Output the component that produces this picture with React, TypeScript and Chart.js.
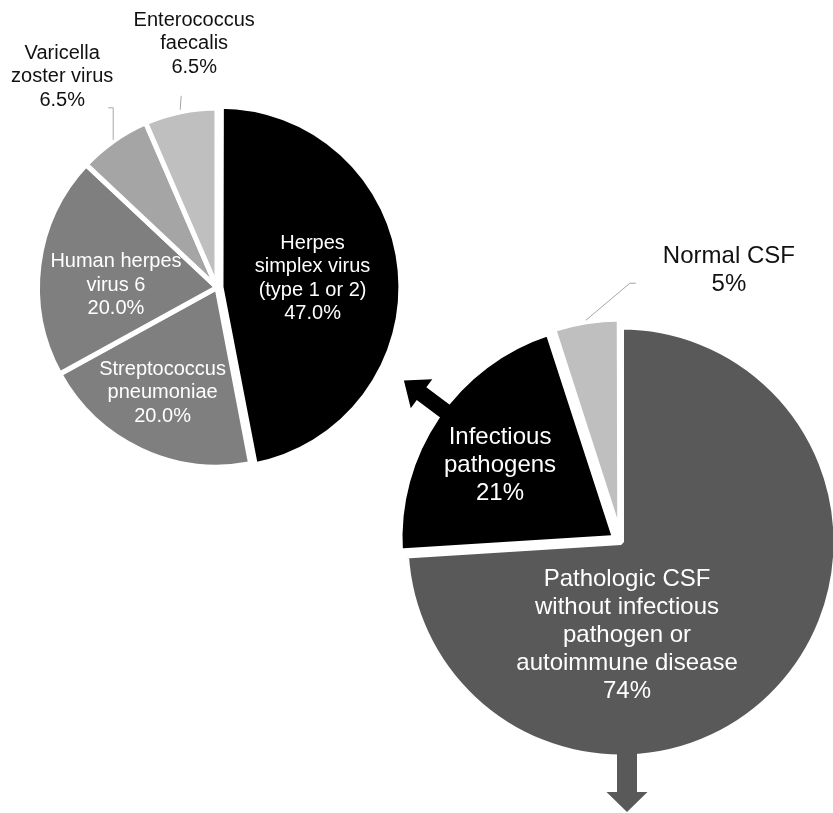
import React, { useEffect, useRef } from 'react';
import { Chart, registerables } from 'chart.js';

Chart.register(...registerables);

// ---------- data ----------
const pathogenCategories = [
  'Herpes simplex virus (type 1 or 2)',
  'Streptococcus pneumoniae',
  'Human herpes virus 6',
  'Varicella zoster virus',
  'Enterococcus faecalis',
];
const pathogenValues = [47.0, 20.0, 20.0, 6.5, 6.5];
const pathogenLabelLines = [
  ['Herpes', 'simplex virus', '(type 1 or 2)'],
  ['Streptococcus', 'pneumoniae'],
  ['Human herpes', 'virus 6'],
  ['Varicella', 'zoster virus'],
  ['Enterococcus', 'faecalis'],
];
const pathogenColors = ['#000000', '#7f7f7f', '#7f7f7f', '#a5a5a5', '#bfbfbf'];

const csfCategories = [
  'Pathologic CSF without infectious pathogen or autoimmune disease',
  'Infectious pathogens',
  'Normal CSF',
];
const csfValues = [74, 21, 5];
const csfLabelLines = [
  ['Pathologic CSF', 'without infectious', 'pathogen or', 'autoimmune disease'],
  ['Infectious', 'pathogens'],
  ['Normal CSF'],
];
const csfColors = ['#595959', '#000000', '#bfbfbf'];

// ---------- layout ----------
const W = 833;
const H = 813;
const FONT = "'Liberation Sans', Arial, Helvetica, sans-serif";
const LEFT_CENTER = { x: 217, y: 287.5 };
const RIGHT_CENTER = { x: 621, y: 542 };

const rad = (d: number) => (d * Math.PI) / 180;

function arcGeom(arc: any) {
  const mid = (arc.startAngle + arc.endAngle) / 2;
  const off = (arc.options.offset || 0) / 4;
  const circ = arc.endAngle - arc.startAngle;
  const fix = 1 - Math.sin(Math.min(Math.PI, circ));
  return {
    mid,
    cx: arc.x + Math.cos(mid) * off,
    cy: arc.y + Math.sin(mid) * off,
    r: arc.outerRadius,
    rEff: arc.outerRadius + off * fix,
  };
}

const sliceLabelPlugin = {
  id: 'sliceLabels',
  afterDatasetsDraw(chart: any, _args: any, opts: any) {
    const meta = chart.getDatasetMeta(0);
    const ctx = chart.ctx;
    const values = chart.data.datasets[0].data;
    meta.data.forEach((arc: any, i: number) => {
      const spec = opts.specs[i];
      if (!spec) return;
      const g = arcGeom(arc);
      const lines = [...opts.lines[i], opts.format(values[i])];
      ctx.save();
      ctx.font = `${opts.fontSize}px ${FONT}`;
      ctx.textAlign = 'center';
      ctx.textBaseline = 'middle';
      let lx: number;
      let ly: number;
      if (spec.inside) {
        const a = g.mid + rad(spec.da);
        lx = g.cx + Math.cos(a) * g.r * spec.k;
        ly = g.cy + Math.sin(a) * g.r * spec.k;
        ctx.fillStyle = opts.insideColor;
      } else {
        let px = g.cx + Math.cos(g.mid) * (g.rEff + spec.gap);
        let py = g.cy + Math.sin(g.mid) * (g.rEff + spec.gap);
        ctx.beginPath();
        ctx.moveTo(px, py);
        spec.leader.forEach(([dx, dy]: [number, number]) => {
          px += dx;
          py += dy;
          ctx.lineTo(px, py);
        });
        ctx.strokeStyle = opts.leaderColor;
        ctx.lineWidth = 1;
        ctx.stroke();
        lx = px + spec.dx;
        ly = py + spec.dy;
        ctx.fillStyle = opts.outsideColor;
      }
      const lh = spec.lh || opts.lineHeight;
      const top = ly - ((lines.length - 1) * lh) / 2;
      lines.forEach((t: string, j: number) => ctx.fillText(t, lx, top + j * lh));
      ctx.restore();
    });
  },
};

const arrowPlugin = {
  id: 'sliceArrows',
  afterDatasetsDraw(chart: any, _args: any, opts: any) {
    if (!opts || !opts.items) return;
    const meta = chart.getDatasetMeta(0);
    const ctx = chart.ctx;
    opts.items.forEach((it: any) => {
      const arc = meta.data[it.index];
      const g = arcGeom(arc);
      const a = rad(it.angle - 90);
      const d = { x: Math.cos(a), y: Math.sin(a) };
      const p = { x: -d.y, y: d.x };
      const bx = g.cx + d.x * g.r * it.from + p.x * it.lateral;
      const by = g.cy + d.y * g.r * it.from + p.y * it.lateral;
      const tx = g.cx + d.x * g.r * it.to + p.x * it.lateral;
      const ty = g.cy + d.y * g.r * it.to + p.y * it.lateral;
      const hx = tx - d.x * it.headLen;
      const hy = ty - d.y * it.headLen;
      ctx.save();
      ctx.beginPath();
      ctx.moveTo(bx + p.x * it.shaft, by + p.y * it.shaft);
      ctx.lineTo(hx + p.x * it.shaft, hy + p.y * it.shaft);
      ctx.lineTo(hx + p.x * it.head, hy + p.y * it.head);
      ctx.lineTo(tx, ty);
      ctx.lineTo(hx - p.x * it.head, hy - p.y * it.head);
      ctx.lineTo(hx - p.x * it.shaft, hy - p.y * it.shaft);
      ctx.lineTo(bx - p.x * it.shaft, by - p.y * it.shaft);
      ctx.closePath();
      ctx.fillStyle = it.color;
      ctx.fill();
      ctx.restore();
    });
  },
};

export default function App() {
  const leftRef = useRef<HTMLCanvasElement>(null);
  const rightRef = useRef<HTMLCanvasElement>(null);

  useEffect(() => {
    const left = new Chart(leftRef.current as HTMLCanvasElement, {
      type: 'pie',
      data: {
        labels: pathogenCategories,
        datasets: [
          {
            data: pathogenValues,
            backgroundColor: pathogenColors,
            borderColor: '#ffffff',
            borderWidth: [7, 5, 5, 5, 5],
            offset: [12, 0, 0, 0, 0],
            radius: 179.5,
            clip: false,
          } as any,
        ],
      },
      options: {
        responsive: false,
        animation: false,
        events: [],
        layout: {
          padding: {
            left: 0,
            top: 0,
            right: W - 2 * LEFT_CENTER.x,
            bottom: H - 2 * LEFT_CENTER.y,
          },
        },
        plugins: {
          legend: { display: false },
          tooltip: { enabled: false },
          sliceLabels: {
            lines: pathogenLabelLines,
            format: (v: number) => `${v.toFixed(1)}%`,
            fontSize: 20,
            lineHeight: 23.5,
            insideColor: '#ffffff',
            outsideColor: '#111111',
            leaderColor: '#a6a6a6',
            specs: [
              { inside: true, k: 0.518, da: 0 },
              { inside: true, k: 0.661, da: 2.1 },
              { inside: true, k: 0.563, da: -5.8 },
              { inside: false, gap: 1, leader: [[0, -32], [-5, 0]], dx: -46, dy: -31 },
              { inside: false, gap: 2, leader: [[1, -14]], dx: 13, dy: -52 },
            ],
          },
        } as any,
      },
      plugins: [sliceLabelPlugin],
    });

    const right = new Chart(rightRef.current as HTMLCanvasElement, {
      type: 'pie',
      data: {
        labels: csfCategories,
        datasets: [
          {
            data: csfValues,
            backgroundColor: csfColors,
            borderColor: '#ffffff',
            borderWidth: 6,
            offset: [0, 28, 19],
            radius: 215.5,
            clip: false,
          } as any,
        ],
      },
      options: {
        responsive: false,
        animation: false,
        events: [],
        layout: {
          padding: {
            left: 2 * RIGHT_CENTER.x - W,
            top: 2 * RIGHT_CENTER.y - H,
            right: 0,
            bottom: 0,
          },
        },
        plugins: {
          legend: { display: false },
          tooltip: { enabled: false },
          sliceLabels: {
            lines: csfLabelLines,
            format: (v: number) => `${v}%`,
            fontSize: 24,
            lineHeight: 28,
            insideColor: '#ffffff',
            outsideColor: '#111111',
            leaderColor: '#a6a6a6',
            specs: [
              { inside: true, k: 0.4325, da: 43.1 },
              { inside: true, k: 0.633, da: -1.8 },
              { inside: false, gap: 1, leader: [[44, -37], [6, 0]], dx: 93, dy: -13, lh: 28 },
            ],
          },
          sliceArrows: {
            items: [
              { index: 1, angle: 306.7, lateral: 0, from: 0.85, to: 1.223, shaft: 8, head: 18, headLen: 22, color: '#000000' },
              { index: 0, angle: 180, lateral: -6, from: 0.9, to: 1.253, shaft: 10, head: 20.5, headLen: 20, color: '#595959' },
            ],
          },
        } as any,
      },
      plugins: [arrowPlugin, sliceLabelPlugin],
    });

    return () => {
      left.destroy();
      right.destroy();
    };
  }, []);

  return (
    <div
      style={{
        position: 'fixed',
        left: 0,
        top: 0,
        width: W,
        height: H,
        overflow: 'hidden',
        background: '#ffffff',
      }}
    >
      <canvas ref={leftRef} width={W} height={H} style={{ position: 'absolute', left: 0, top: 0 }} />
      <canvas ref={rightRef} width={W} height={H} style={{ position: 'absolute', left: 0, top: 0 }} />
    </div>
  );
}
